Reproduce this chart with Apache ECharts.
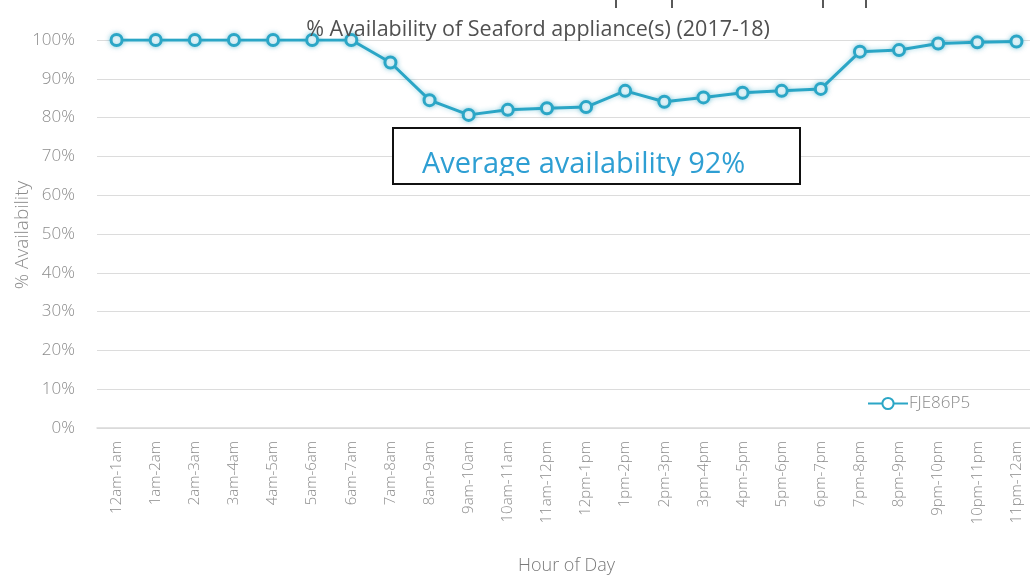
<!DOCTYPE html>
<html>
<head>
<meta charset="utf-8">
<script src="https://cdn.jsdelivr.net/npm/echarts@6/dist/echarts.min.js"></script>
<style>
html,body{margin:0;padding:0;background:#fff;}
#chart{width:1030px;height:579px;}
</style>
</head>
<body>
<div id="chart"></div>
<script>
const titleText = '% Availability of Seaford appliance(s) (2017-18)';
const yAxisTitle = '% Availability';
const xAxisTitle = 'Hour of Day';
const seriesName = 'FJE86P5';
const hours = ['12am-1am','1am-2am','2am-3am','3am-4am','4am-5am','5am-6am','6am-7am','7am-8am','8am-9am','9am-10am','10am-11am','11am-12pm','12pm-1pm','1pm-2pm','2pm-3pm','3pm-4pm','4pm-5pm','5pm-6pm','6pm-7pm','7pm-8pm','8pm-9pm','9pm-10pm','10pm-11pm','11pm-12am'];
const availability = [100,100,100,100,100,100,100,94.2,84.5,80.7,82.0,82.4,82.7,86.9,84.1,85.2,86.4,86.9,87.4,97.0,97.4,99.1,99.4,99.6];
const annotationText = 'Average availability 92%';

const lineColor = '#2BA6C6';
const font = '"Open Sans", "Noto Sans", sans-serif';

const chart = echarts.init(document.getElementById('chart'), null, {renderer:'canvas'});
chart.setOption({
  animation:false,
  backgroundColor:'#fff',
  title:{
    text:titleText,
    left:533,
    textAlign:'center',
    top:14,
    textStyle:{fontFamily:font,fontSize:21.5,fontWeight:'normal',color:'#505050'}
  },
  grid:{left:97,top:40,width:939,height:388,containLabel:false,outerBoundsMode:'none'},
  legend:{
    data:[seriesName],
    left:862,top:390,
    itemWidth:40,itemHeight:14,itemGap:4,
    textStyle:{fontFamily:font,fontSize:17,color:'#8a8a8a',fontWeight:300,padding:[0,0,0,-4]}
  },
  xAxis:{
    type:'category',
    data:hours,
    boundaryGap:true,
    name:xAxisTitle,
    nameLocation:'middle',
    nameGap:129,
    nameTextStyle:{fontFamily:font,fontSize:18,color:'#7a7a7a',fontWeight:300},
    axisLine:{show:true,lineStyle:{color:'#d9d9d9',width:1.5}},
    axisTick:{show:false},
    axisLabel:{rotate:90,margin:13,interval:0,fontFamily:font,fontSize:15,color:'#8c8c8c',fontWeight:300}
  },
  yAxis:{
    type:'value',
    min:0,max:100,interval:10,
    axisLine:{show:false},
    axisTick:{show:false},
    axisLabel:{formatter:'{value}%',margin:22,fontFamily:font,fontSize:17,color:'#8c8c8c',fontWeight:300},
    splitLine:{lineStyle:{color:'#dcdcdc',width:1.2}}
  },
  series:[{
    name:seriesName,
    type:'line',
    data:availability,
    symbol:'circle',
    symbolSize:11,
    showAllSymbol:true,
    lineStyle:{color:lineColor,width:3,shadowColor:'rgba(43,166,198,0.45)',shadowBlur:5},
    itemStyle:{color:'#ffffff',borderColor:lineColor,borderWidth:3,shadowColor:'rgba(43,166,198,0.5)',shadowBlur:5}
  }],
  graphic:[
    {type:'text',x:23,y:235,rotation:Math.PI/2,style:{text:yAxisTitle,fontFamily:font,fontSize:19,fontWeight:300,fill:'#8c8c8c',align:'center',verticalAlign:'middle'}},
    {type:'rect',shape:{x:393,y:128,width:407,height:56},style:{fill:'#fff',stroke:null},z:100},
    {type:'text',x:422,y:179,style:{text:annotationText,fontFamily:font,fontSize:29,fill:'#2E9FD3',verticalAlign:'bottom'},z:101},
    {type:'rect',shape:{x:394,y:176,width:405,height:8},style:{fill:'#fff'},z:102},
    {type:'rect',shape:{x:393,y:128,width:407,height:56},style:{fill:null,stroke:'#111',lineWidth:2},z:103},
    {type:'line',shape:{x1:616,y1:0,x2:616,y2:8},style:{stroke:'#222',lineWidth:1.5},z:103},
    {type:'line',shape:{x1:672,y1:0,x2:672,y2:8},style:{stroke:'#222',lineWidth:1.5},z:103},
    {type:'line',shape:{x1:823,y1:0,x2:823,y2:8},style:{stroke:'#222',lineWidth:1.5},z:103},
    {type:'line',shape:{x1:866,y1:0,x2:866,y2:8},style:{stroke:'#222',lineWidth:1.5},z:103}
  ]
});
</script>
</body>
</html>
